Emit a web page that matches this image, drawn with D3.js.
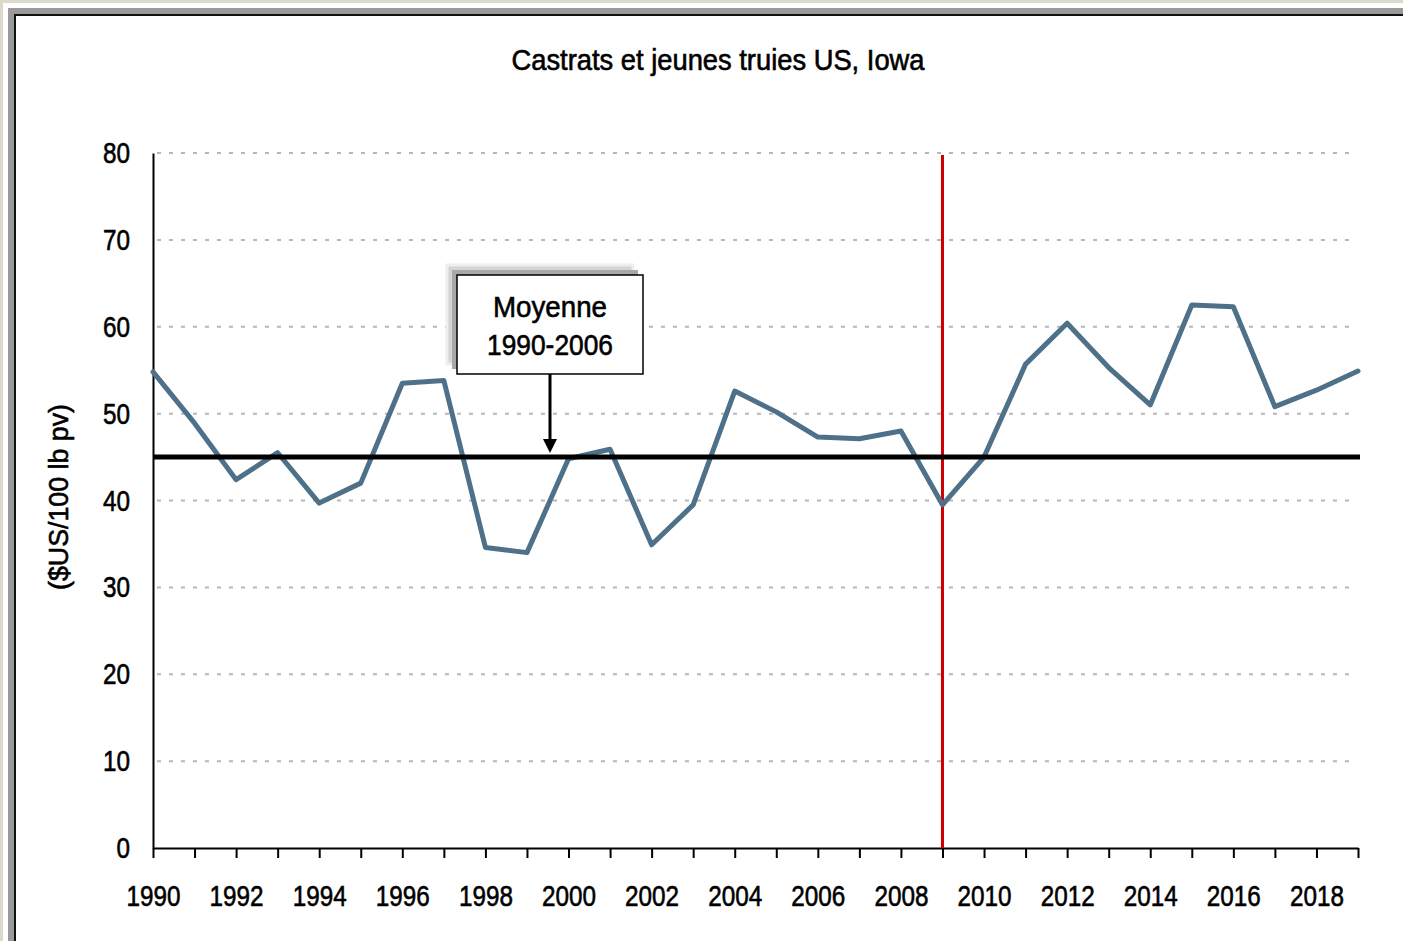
<!DOCTYPE html>
<html>
<head>
<meta charset="utf-8">
<script src="https://cdn.jsdelivr.net/npm/d3@7"></script>
<style>
  html, body { margin: 0; padding: 0; background: #dcd8cc; }
  svg { display: block; }
  text { font-family: "Liberation Sans", Arial, sans-serif; fill: #000; stroke: #000; stroke-width: 0.6px; }
</style>
</head>
<body>
<script>
// data
var years = d3.range(1990, 2020);
var prices = [54.8, 48.9, 42.4, 45.5, 39.7, 42.0, 53.5, 53.8, 34.6, 34.0,
              44.8, 45.9, 34.9, 39.5, 52.6, 50.2, 47.3, 47.1, 48.0, 39.5,
              45.0, 55.7, 60.4, 55.3, 51.0, 62.5, 62.3, 50.8, 52.7, 54.9];
var average = 45.0;
var markerYear = 2009;
var yTicks = [0, 10, 20, 30, 40, 50, 60, 70, 80];

var W = 1403, H = 941;
var svg = d3.select('body').append('svg').attr('width', W).attr('height', H);

// narrow look: squeeze each label to the width it has in the picture
function narrow(sel, perChar){
  sel.each(function(){
    var t = d3.select(this), s = t.text();
    if (s.length) t.attr('textLength', s.length * perChar).attr('lengthAdjust', 'spacingAndGlyphs');
  });
}

// frame
svg.append('rect').attr('x', 3).attr('y', 3).attr('width', W).attr('height', H).attr('fill', '#fff');
svg.append('rect').attr('x', 8).attr('y', 8).attr('width', W).attr('height', H).attr('fill', '#9a9a9a');
svg.append('rect').attr('x', 14).attr('y', 14).attr('width', W).attr('height', H).attr('fill', '#111');
svg.append('rect').attr('x', 16).attr('y', 16).attr('width', W).attr('height', H).attr('fill', '#fff');

var x = d3.scaleLinear().domain([1990, 2019]).range([153, 1358]);
var y = d3.scaleLinear().domain([0, 80]).range([848, 153]);

// title
svg.append('text').attr('x', 718).attr('y', 70).attr('text-anchor', 'middle')
  .attr('font-size', 29).attr('textLength', 413).attr('lengthAdjust', 'spacingAndGlyphs')
  .text('Castrats et jeunes truies US, Iowa');

// grid
svg.append('g').selectAll('line').data(yTicks.filter(function(d){ return d > 0; }))
  .join('line')
  .attr('x1', 157).attr('x2', 1356)
  .attr('y1', function(d){ return y(d); }).attr('y2', function(d){ return y(d); })
  .attr('stroke', '#b8b8b8').attr('stroke-width', 2).attr('stroke-dasharray', '4,8');

// y axis
var yAxis = svg.append('g').attr('transform', 'translate(153,0)')
  .call(d3.axisLeft(y).tickValues(yTicks).tickSize(0).tickPadding(23));
yAxis.select('.domain').attr('stroke', '#000').attr('stroke-width', 2);
yAxis.selectAll('text').attr('font-size', 29).attr('dy', '0.33em')
  .style('font-family', '"Liberation Sans", Arial, sans-serif').attr('fill', '#000')
  .call(narrow, 13.5);

// x axis
var xAxis = svg.append('g').attr('transform', 'translate(0,848)')
  .call(d3.axisBottom(x).tickValues(years).tickSize(10).tickSizeOuter(0)
    .tickFormat(function(d){ return d % 2 === 0 ? d : ''; }).tickPadding(26));
xAxis.select('.domain').attr('stroke', '#000').attr('stroke-width', 2);
xAxis.selectAll('line').attr('stroke', '#000').attr('stroke-width', 2);
xAxis.selectAll('text').attr('font-size', 29).attr('dy', '0.75em')
  .style('font-family', '"Liberation Sans", Arial, sans-serif').attr('fill', '#000')
  .call(narrow, 13.5);

// y label
svg.append('text').attr('transform', 'translate(68,497) rotate(-90)')
  .attr('text-anchor', 'middle').attr('font-size', 27)
  .attr('textLength', 186).attr('lengthAdjust', 'spacingAndGlyphs')
  .text('($US/100 lb pv)');

// red marker line
svg.append('line').attr('x1', x(markerYear)).attr('x2', x(markerYear))
  .attr('y1', y(80) + 2).attr('y2', y(0))
  .attr('stroke', '#cc0000').attr('stroke-width', 3);

// price line
var line = d3.line().x(function(d, i){ return x(years[i]); }).y(function(d){ return y(d); });
svg.append('path').datum(prices).attr('d', line)
  .attr('fill', 'none').attr('stroke', '#4e7189').attr('stroke-width', 5)
  .attr('stroke-linejoin', 'round').attr('stroke-linecap', 'round');

// average line
svg.append('line').attr('x1', 153).attr('x2', 1360)
  .attr('y1', y(average)).attr('y2', y(average))
  .attr('stroke', '#000').attr('stroke-width', 5);

// annotation box
var bx = 457, by = 275, bw = 186, bh = 99, cx = bx + bw / 2;
svg.append('rect').attr('x', bx - 10).attr('y', by - 10).attr('width', bw).attr('height', bh)
  .attr('fill', '#d4d4d4').attr('stroke', '#eeeeee').attr('stroke-width', 3);
svg.append('rect').attr('x', bx - 5).attr('y', by - 5).attr('width', bw).attr('height', bh)
  .attr('fill', '#a8a8a8');
svg.append('rect').attr('x', bx).attr('y', by).attr('width', bw).attr('height', bh)
  .attr('fill', '#fff').attr('stroke', '#000').attr('stroke-width', 1.5);
svg.append('text').attr('x', cx).attr('y', by + 42).attr('text-anchor', 'middle')
  .attr('font-size', 30).attr('textLength', 114).attr('lengthAdjust', 'spacingAndGlyphs')
  .text('Moyenne');
svg.append('text').attr('x', cx).attr('y', by + 80).attr('text-anchor', 'middle')
  .attr('font-size', 30).attr('textLength', 126).attr('lengthAdjust', 'spacingAndGlyphs')
  .text('1990-2006');

// arrow
svg.append('line').attr('x1', cx).attr('x2', cx).attr('y1', by + bh).attr('y2', y(average) - 14)
  .attr('stroke', '#000').attr('stroke-width', 3);
svg.append('path')
  .attr('d', 'M' + (cx - 7) + ',' + (y(average) - 18) + 'L' + (cx + 7) + ',' + (y(average) - 18) + 'L' + cx + ',' + (y(average) - 4) + 'Z')
  .attr('fill', '#000');
</script>
</body>
</html>
